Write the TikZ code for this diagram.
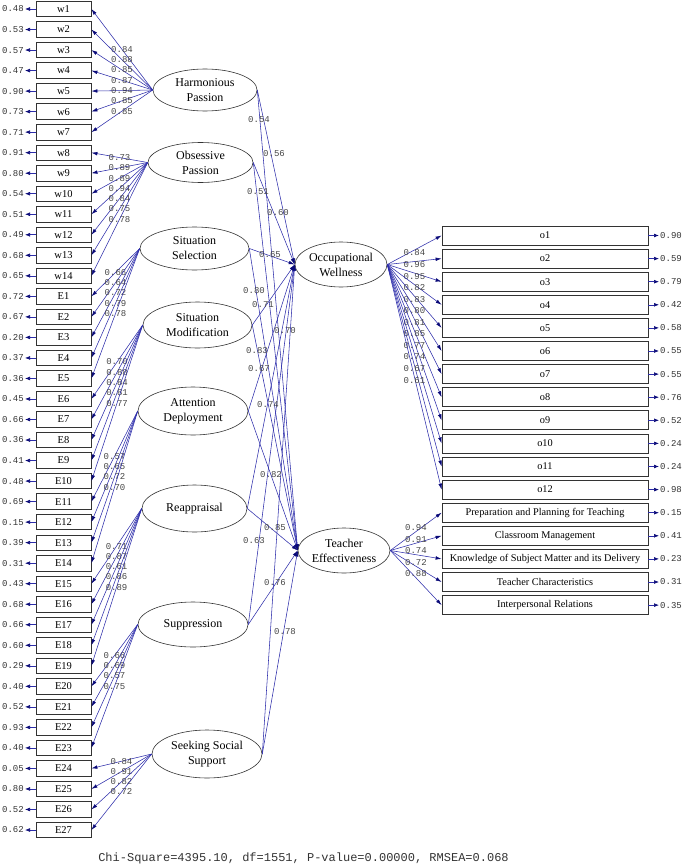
\documentclass[tikz,border=0pt]{standalone}
\usepackage{fontspec}
\setmainfont{Liberation Serif}
\setmonofont{Liberation Mono}
\usetikzlibrary{shapes.geometric,arrows.meta}
\definecolor{pathblue}{RGB}{45,45,170}
\definecolor{tipnavy}{RGB}{10,10,120}
\definecolor{numgray}{RGB}{70,70,70}
\begin{document}
\begin{tikzpicture}[x=1pt,y=-1pt,
  lv/.style={ellipse,draw=black!80,line width=0.6pt,inner sep=0pt,align=center,font=\fontsize{12}{15}\selectfont},
  lbox/.style={rectangle,draw=black!80,line width=0.8pt,minimum width=55pt,minimum height=15.5pt,inner sep=0pt,font=\fontsize{10.5}{12}\selectfont},
  rbox/.style={rectangle,draw=black!80,line width=0.8pt,minimum width=206pt,minimum height=19pt,inner sep=0pt,font=\fontsize{10.3}{12}\selectfont},
  pth/.style={draw=pathblue,line width=0.55pt,-{Latex[length=6pt,width=3.6pt,color=tipnavy]}},
  err/.style={draw=pathblue,line width=0.6pt,-{Latex[length=5pt,width=3.8pt,color=tipnavy]}},
  num/.style={font=\ttfamily\fontsize{9}{10}\selectfont,text=numgray,inner sep=0.5pt},
  errv/.style={font=\ttfamily\fontsize{9}{10}\selectfont,text=black!80,inner sep=1pt},
]
\path[use as bounding box] (0,0) rectangle (685,867);

% ---------- left indicator boxes with error values ----------
\foreach \lab/\ev [count=\i from 0] in {w1/0.48,w2/0.53,w3/0.57,w4/0.47,w5/0.90,w6/0.73,w7/0.71,
  w8/0.91,w9/0.80,w10/0.54,w11/0.51,w12/0.49,w13/0.68,w14/0.65,
  E1/0.72,E2/0.67,E3/0.20,E4/0.37,E5/0.36,E6/0.45,E7/0.66,E8/0.36,E9/0.41,E10/0.48,
  E11/0.69,E12/0.15,E13/0.39,E14/0.31,E15/0.43,E16/0.68,E17/0.66,E18/0.60,E19/0.29,
  E20/0.40,E21/0.52,E22/0.93,E23/0.40,E24/0.05,E25/0.80,E26/0.52,E27/0.62}{
  \node[lbox] (L\i) at (63.5,{9+20.525*\i}) {\lab};
  \node[errv,anchor=east] (LE\i) at (25,{9+20.525*\i}) {\ev};
  \draw[err] (L\i.west) -- (LE\i.east);
}

% ---------- right indicator boxes with error values ----------
\foreach \lab/\ev [count=\i from 0] in {o1/0.90,o2/0.59,o3/0.79,o4/0.42,o5/0.58,o6/0.55,
  o7/0.55,o8/0.76,o9/0.52,o10/0.24,o11/0.24,o12/0.98,
  Preparation and Planning for Teaching/0.15,Classroom Management/0.41,
  Knowledge of Subject Matter and its Delivery/0.23,Teacher Characteristics/0.31,
  Interpersonal Relations/0.35}{
  \node[rbox] (R\i) at (545,{235.5+23.1*\i}) {\lab};
  \node[errv,anchor=west] (RE\i) at (659,{235.5+23.1*\i}) {\ev};
  \draw[err] (R\i.east) -- (RE\i.west);
}

% ---------- latent variables ----------
\node[lv,minimum width=104pt,minimum height=42pt] (hp) at (205,90) {Harmonious\\Passion};
\node[lv,minimum width=105pt,minimum height=40pt] (op) at (200.5,162.5) {Obsessive\\Passion};
\node[lv,minimum width=109pt,minimum height=43pt] (ss) at (194.5,248.5) {Situation\\Selection};
\node[lv,minimum width=109pt,minimum height=46pt] (sm) at (197.5,325) {Situation\\Modification};
\node[lv,minimum width=110pt,minimum height=48pt] (ad) at (193,411) {Attention\\Deployment};
\node[lv,minimum width=105pt,minimum height=47pt] (re) at (194.5,508.5) {Reappraisal};
\node[lv,minimum width=110pt,minimum height=45pt] (su) at (193,624.5) {Suppression};
\node[lv,minimum width=110pt,minimum height=48pt] (sss) at (207,754) {Seeking Social\\Support};
\node[lv,minimum width=92pt,minimum height=45pt] (ow) at (341,264.5) {Occupational\\Wellness};
\node[lv,minimum width=92pt,minimum height=45pt] (te) at (344,550.5) {Teacher\\Effectiveness};

% ---------- loadings (left) ----------
\foreach \v [count=\k from 0] in {0.84,0.88,0.85,0.87,0.94,0.85,0.85}
  \draw[pth] (hp.west) -- (L\k.east) node[num,pos=0.5]{\v};
\foreach \v [count=\k from 7] in {0.73,0.89,0.89,0.94,0.84,0.75,0.78}
  \draw[pth] (op.west) -- (L\k.east) node[num,pos=0.5]{\v};
\foreach \v [count=\k from 14] in {0.66,0.64,0.72,0.79,0.78}
  \draw[pth] (ss.west) -- (L\k.east) node[num,pos=0.5]{\v};
\foreach \v [count=\k from 19] in {0.70,0.88,0.84,0.81,0.77}
  \draw[pth] (sm.west) -- (L\k.east) node[num,pos=0.5]{\v};
\foreach \v [count=\k from 24] in {0.57,0.65,0.72,0.70}
  \draw[pth] (ad.west) -- (L\k.east) node[num,pos=0.5]{\v};
\foreach \v [count=\k from 28] in {0.71,0.87,0.61,0.86,0.89}
  \draw[pth] (re.west) -- (L\k.east) node[num,pos=0.5]{\v};
\foreach \v [count=\k from 33] in {0.66,0.69,0.57,0.75}
  \draw[pth] (su.west) -- (L\k.east) node[num,pos=0.5]{\v};
\foreach \v [count=\k from 37] in {0.84,0.91,0.82,0.72}
  \draw[pth] (sss.west) -- (L\k.east) node[num,pos=0.5]{\v};

% ---------- loadings (right) ----------
\foreach \v [count=\k from 0] in {0.84,0.96,0.95,0.82,0.83,0.80,0.81,0.85,0.77,0.74,0.67,0.61}
  \draw[pth] (ow.east) -- (R\k.west) node[num,pos=0.5,yshift=-3pt]{\v};
\foreach \v [count=\k from 12] in {0.94,0.91,0.74,0.72,0.88}
  \draw[pth] (te.east) -- (R\k.west) node[num,pos=0.5,yshift=4pt]{\v};

% ---------- structural paths ----------
\foreach \s in {hp,op,ss,sm,ad,re,su,sss}{
  \draw[pth] (\s.east) -- (ow.west);
  \draw[pth] (\s.east) -- (te.west);
}
\node[num] (m1) at (259,120) {0.54};
\node[num] (m2) at (274,154) {0.56};
\node[num] (m3) at (258,192) {0.51};
\node[num] (m4) at (278,213) {0.60};
\node[num] (m5) at (270,255) {0.65};
\node[num] (m6) at (254,291) {0.80};
\node[num] (m7) at (263,305) {0.71};
\node[num] (m8) at (285,331) {0.70};
\node[num] (m9) at (257,351) {0.83};
\node[num] (m10) at (259,369) {0.67};
\node[num] (m11) at (268,405) {0.74};
\node[num] (m12) at (271,475) {0.82};
\node[num] (m13) at (275,528) {0.85};
\node[num] (m14) at (254,541) {0.63};
\node[num] (m15) at (275,583) {0.76};
\node[num] (m16) at (285,632) {0.78};

% ---------- fit statistics ----------
\node[font=\ttfamily\fontsize{12}{14}\selectfont,text=black!80] (fit) at (303.5,858)
  {Chi-Square=4395.10, df=1551, P-value=0.00000, RMSEA=0.068};
\end{tikzpicture}
\end{document}
